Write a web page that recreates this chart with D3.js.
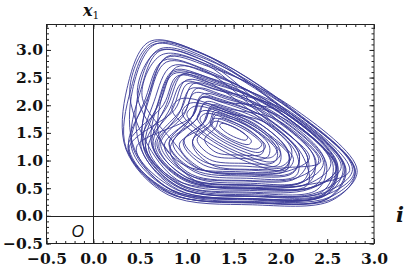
<!DOCTYPE html>
<html>
<head>
<meta charset="utf-8">
<script src="https://cdn.jsdelivr.net/npm/d3@7"></script>
<style>
  body { margin: 0; background: #fff; }
  .tick text { font-family: "DejaVu Serif", serif; font-weight: bold; font-size: 15.5px; fill: #111; }
  .tick line { stroke: #222; }
</style>
</head>
<body>
<svg id="chart" width="405" height="273"></svg>
<script>
'use strict'

// tick labels on the frame
const xTickValues = [-0.5, 0, 0.5, 1, 1.5, 2, 2.5, 3];
const yTickValues = [-0.5, 0, 0.5, 1, 1.5, 2, 2.5, 3];

// trajectory loops, [i, x1] pairs, one closed loop each
const outerLoops = [
  [[0.60,3.15],[1.15,2.95],[2.10,1.95],[2.80,0.80],[2.55,0.28],[1.70,0.20],[0.80,0.38],[0.35,1.20],[0.36,2.30]],
  [[0.66,3.10],[1.19,2.91],[2.12,1.94],[2.80,0.81],[2.53,0.34],[1.72,0.26],[0.87,0.43],[0.44,1.21],[0.42,2.28]],
  [[0.63,3.09],[1.15,2.90],[2.04,1.94],[2.69,0.87],[2.51,0.32],[1.68,0.25],[0.79,0.42],[0.35,1.23],[0.40,2.28]],
  [[0.63,3.13],[1.17,2.93],[2.04,1.90],[2.65,0.89],[2.35,0.52],[1.67,0.46],[0.95,0.60],[0.59,1.26],[0.39,2.29]],
  [[0.70,3.01],[1.21,2.83],[2.12,1.91],[2.79,0.81],[2.49,0.38],[1.72,0.31],[0.91,0.47],[0.51,1.21],[0.48,2.22]],
  [[0.71,2.98],[1.19,2.80],[2.04,1.93],[2.67,0.90],[2.49,0.38],[1.69,0.31],[0.84,0.47],[0.42,1.25],[0.50,2.23]],
  [[0.69,2.98],[1.19,2.80],[1.92,1.80],[2.41,1.00],[2.18,0.69],[1.63,0.64],[1.05,0.75],[0.75,1.29],[0.47,2.22]],
  [[0.73,2.91],[1.20,2.74],[1.87,1.76],[2.31,1.05],[2.08,0.81],[1.61,0.76],[1.12,0.86],[0.87,1.31],[0.52,2.18]],
  [[0.79,2.88],[1.26,2.71],[2.11,1.92],[2.77,0.84],[2.47,0.42],[1.73,0.35],[0.93,0.51],[0.54,1.23],[0.59,2.16]],
  [[0.78,2.86],[1.23,2.70],[2.12,1.97],[2.82,0.82],[2.56,0.31],[1.72,0.23],[0.83,0.41],[0.38,1.22],[0.59,2.17]],
  [[0.75,2.81],[1.19,2.65],[1.99,1.88],[2.59,0.89],[2.44,0.37],[1.65,0.30],[0.83,0.47],[0.41,1.22],[0.56,2.13]],
  [[0.78,2.78],[1.19,2.63],[1.81,1.80],[2.23,1.11],[2.29,0.56],[1.61,0.50],[0.89,0.64],[0.53,1.30],[0.60,2.14]],
  [[0.84,2.71],[1.25,2.56],[2.06,1.87],[2.69,0.84],[2.41,0.43],[1.69,0.36],[0.93,0.51],[0.54,1.21],[0.65,2.07]],
  [[0.89,2.69],[1.29,2.55],[2.03,1.88],[2.61,0.94],[2.49,0.42],[1.72,0.35],[0.91,0.51],[0.51,1.25],[0.72,2.08]]
];

const middleLoops = [
  [[0.86,2.63],[1.25,2.49],[2.07,1.92],[2.74,0.82],[2.28,0.56],[1.64,0.50],[0.97,0.64],[0.63,1.25],[0.69,2.04]],
  [[0.86,2.60],[1.24,2.47],[2.00,1.86],[2.60,0.87],[2.32,0.49],[1.64,0.43],[0.92,0.57],[0.56,1.23],[0.69,2.02]],
  [[0.86,2.57],[1.19,2.45],[1.73,1.83],[2.12,1.19],[2.03,0.85],[1.52,0.80],[0.98,0.91],[0.71,1.40],[0.72,2.06]],
  [[0.96,2.57],[1.32,2.44],[2.02,1.84],[2.56,0.94],[2.45,0.44],[1.72,0.38],[0.95,0.53],[0.56,1.24],[0.80,2.01]],
  [[0.93,2.54],[1.28,2.42],[1.98,1.87],[2.54,0.95],[2.30,0.58],[1.65,0.52],[0.97,0.66],[0.63,1.28],[0.78,2.01]],
  [[0.90,2.53],[1.24,2.41],[1.99,1.92],[2.60,0.91],[2.46,0.37],[1.65,0.29],[0.80,0.46],[0.37,1.24],[0.75,2.01]],
  [[0.99,2.45],[1.32,2.33],[1.97,1.80],[2.49,0.95],[2.39,0.47],[1.69,0.41],[0.96,0.55],[0.59,1.23],[0.85,1.94]],
  [[0.96,2.42],[1.27,2.31],[1.93,1.83],[2.46,0.96],[2.23,0.61],[1.61,0.55],[0.97,0.68],[0.64,1.27],[0.82,1.94]],
  [[1.01,2.39],[1.31,2.28],[2.05,1.91],[2.70,0.85],[2.52,0.32],[1.69,0.24],[0.82,0.41],[0.38,1.21],[0.87,1.92]],
  [[1.07,2.39],[1.37,2.28],[1.98,1.82],[2.47,1.02],[2.38,0.56],[1.72,0.50],[1.01,0.64],[0.66,1.28],[0.94,1.93]],
  [[1.04,2.30],[1.32,2.20],[1.91,1.77],[2.38,0.99],[2.24,0.61],[1.64,0.56],[1.01,0.68],[0.70,1.26],[0.92,1.86]],
  [[1.10,2.30],[1.36,2.20],[1.91,1.80],[2.36,1.06],[2.31,0.61],[1.68,0.56],[1.01,0.69],[0.68,1.30],[0.98,1.89]],
  [[1.08,2.22],[1.32,2.13],[1.85,1.76],[2.29,1.05],[2.17,0.68],[1.61,0.63],[1.02,0.74],[0.72,1.29],[0.97,1.83]],
  [[1.17,2.20],[1.45,2.10],[2.07,1.73],[2.60,0.86],[2.36,0.53],[1.76,0.48],[1.13,0.60],[0.82,1.18],[1.05,1.78]],
  [[1.16,2.14],[1.38,2.06],[2.02,1.88],[2.61,0.91],[2.49,0.38],[1.70,0.31],[0.88,0.48],[0.46,1.23],[1.06,1.80]]
];

const innerLoops = [
  [[1.16,2.15],[1.39,2.07],[1.89,1.73],[2.29,1.06],[2.25,0.64],[1.68,0.59],[1.06,0.71],[0.76,1.27],[1.06,1.80]],
  [[1.15,2.13],[1.36,2.06],[1.82,1.74],[2.20,1.12],[2.13,0.77],[1.62,0.72],[1.08,0.83],[0.81,1.32],[1.06,1.80]],
  [[1.20,2.06],[1.39,1.99],[1.82,1.70],[2.17,1.13],[2.17,0.73],[1.64,0.68],[1.09,0.79],[0.81,1.30],[1.11,1.76]],
  [[1.18,2.02],[1.36,1.96],[1.76,1.69],[2.08,1.16],[2.06,0.82],[1.59,0.77],[1.10,0.87],[0.85,1.32],[1.10,1.74]],
  [[1.27,2.00],[1.46,1.93],[1.97,1.73],[2.43,0.98],[2.05,0.87],[1.67,0.84],[1.27,0.92],[1.06,1.29],[1.18,1.70]],
  [[1.26,1.96],[1.43,1.90],[1.78,1.66],[2.08,1.18],[2.06,0.87],[1.63,0.83],[1.18,0.92],[0.96,1.33],[1.19,1.71]],
  [[1.26,1.93],[1.41,1.88],[1.73,1.66],[1.99,1.22],[1.98,0.93],[1.59,0.90],[1.18,0.98],[0.97,1.36],[1.19,1.70]],
  [[1.30,1.91],[1.45,1.85],[1.85,1.68],[2.20,1.11],[2.13,0.79],[1.66,0.74],[1.17,0.84],[0.92,1.29],[1.23,1.67]],
  [[1.30,1.86],[1.44,1.81],[1.72,1.62],[1.96,1.23],[1.94,0.98],[1.60,0.95],[1.24,1.02],[1.06,1.35],[1.25,1.65]],
  [[1.31,1.82],[1.43,1.78],[1.67,1.61],[1.88,1.27],[1.86,1.06],[1.57,1.04],[1.26,1.10],[1.11,1.38],[1.26,1.64]],
  [[1.35,1.76],[1.45,1.72],[1.65,1.57],[1.82,1.29],[1.80,1.12],[1.57,1.10],[1.31,1.15],[1.19,1.38],[1.31,1.60]]
];

// near-elliptical turns around the centre of the attractor
const coreLoops = [
  [[2.14,1.02],[1.87,1.48],[1.37,1.94],[0.94,2.12],[0.84,1.93],[1.11,1.46],[1.61,1.00],[2.04,0.82]],
  [[2.10,1.06],[1.85,1.47],[1.42,1.87],[1.04,2.04],[0.95,1.86],[1.19,1.45],[1.62,1.05],[2.00,0.89]],
  [[2.00,1.13],[1.79,1.49],[1.41,1.84],[1.08,1.98],[1.00,1.83],[1.21,1.47],[1.59,1.12],[1.92,0.98]],
  [[1.96,1.17],[1.78,1.48],[1.45,1.78],[1.17,1.90],[1.11,1.77],[1.28,1.46],[1.61,1.16],[1.89,1.05]],
  [[1.84,1.26],[1.69,1.51],[1.43,1.75],[1.20,1.85],[1.14,1.75],[1.29,1.49],[1.55,1.25],[1.78,1.15]],
  [[1.80,1.29],[1.68,1.49],[1.47,1.68],[1.29,1.76],[1.25,1.67],[1.36,1.47],[1.57,1.28],[1.75,1.21]],
  [[1.69,1.35],[1.60,1.50],[1.44,1.65],[1.30,1.71],[1.27,1.65],[1.36,1.50],[1.52,1.35],[1.66,1.29]],
  [[1.65,1.42],[1.59,1.52],[1.47,1.63],[1.37,1.67],[1.35,1.63],[1.41,1.52],[1.53,1.41],[1.63,1.37]]
];

const allLoops = outerLoops.concat(middleLoops, innerLoops, coreLoops);

const svg = d3.select('#chart');

const x = d3.scaleLinear().domain([-0.5, 3.0]).range([46.5, 374]);
const y = d3.scaleLinear().domain([-0.5, 3.46]).range([243.5, 24.5]);

const loopLine = d3.line()
  .x(d => x(d[0]))
  .y(d => y(d[1]))
  .curve(d3.curveCatmullRomClosed.alpha(0.5));

svg.append('defs').append('clipPath').attr('id', 'plotArea')
  .append('rect')
  .attr('x', x(-0.5)).attr('y', y(3.46))
  .attr('width', x(3) - x(-0.5)).attr('height', y(-0.5) - y(3.46));

svg.append('g')
  .attr('clip-path', 'url(#plotArea)')
  .selectAll('path')
  .data(allLoops)
  .enter()
  .append('path')
  .attr('d', loopLine)
  .attr('fill', 'none')
  .attr('stroke', '#383896')
  .attr('stroke-width', 1)
  .attr('stroke-opacity', 0.9);

// axes through the origin
svg.append('line')
  .attr('x1', x(-0.5)).attr('x2', x(3))
  .attr('y1', Math.round(y(0)) + 0.5).attr('y2', Math.round(y(0)) + 0.5)
  .attr('stroke', '#222');
svg.append('line')
  .attr('x1', Math.round(x(0)) + 0.5).attr('x2', Math.round(x(0)) + 0.5)
  .attr('y1', y(-0.5)).attr('y2', y(3.46))
  .attr('stroke', '#222');

const fmt = d3.format('.1f');
const xMinor = x.ticks(35);
const yMinor = y.ticks(40);

function frameAxis(axisFn, scale, major, minor, padding, pos) {
  const g = svg.append('g').attr('transform', pos);
  g.append('g').call(axisFn(scale).tickValues(minor).tickSize(-2.5).tickFormat(''))
    .call(a => a.select('.domain').remove());
  g.append('g').call(axisFn(scale).tickValues(major).tickSize(-4.5)
      .tickPadding(padding).tickFormat(padding ? fmt : ''))
    .call(a => a.select('.domain').remove());
}

frameAxis(d3.axisBottom, x, xTickValues, xMinor, 9.5, 'translate(0,' + y(-0.5) + ')');
frameAxis(d3.axisLeft, y, yTickValues, yMinor, 3.5, 'translate(' + x(-0.5) + ',0)');
frameAxis(d3.axisTop, x, xTickValues, xMinor, 0, 'translate(0,' + y(3.46) + ')');
frameAxis(d3.axisRight, y, yTickValues, yMinor, 0, 'translate(' + x(3) + ',0)');

// frame
svg.append('rect')
  .attr('x', x(-0.5)).attr('y', y(3.46))
  .attr('width', x(3) - x(-0.5)).attr('height', y(-0.5) - y(3.46))
  .attr('fill', 'none').attr('stroke', '#222');

// axis names
const xName = svg.append('text').attr('x', 83).attr('y', 15.5)
  .attr('font-family', '"DejaVu Serif", serif').attr('fill', '#111');
xName.append('tspan').text('x').attr('font-style', 'italic').attr('font-weight', 'bold').attr('font-size', 16);
xName.append('tspan').text('1').attr('font-size', 10.5).attr('dy', 3);

svg.append('text').attr('x', 396).attr('y', 222)
  .attr('font-family', '"DejaVu Serif", serif').attr('font-style', 'italic')
  .attr('font-weight', 'bold').attr('font-size', 21).attr('fill', '#111')
  .text('i');

svg.append('text').attr('x', 71.5).attr('y', 236.7)
  .attr('font-family', '"Liberation Sans", sans-serif').attr('font-style', 'italic')
  .attr('font-size', 16).attr('fill', '#111')
  .text('O');
</script>
</body>
</html>
